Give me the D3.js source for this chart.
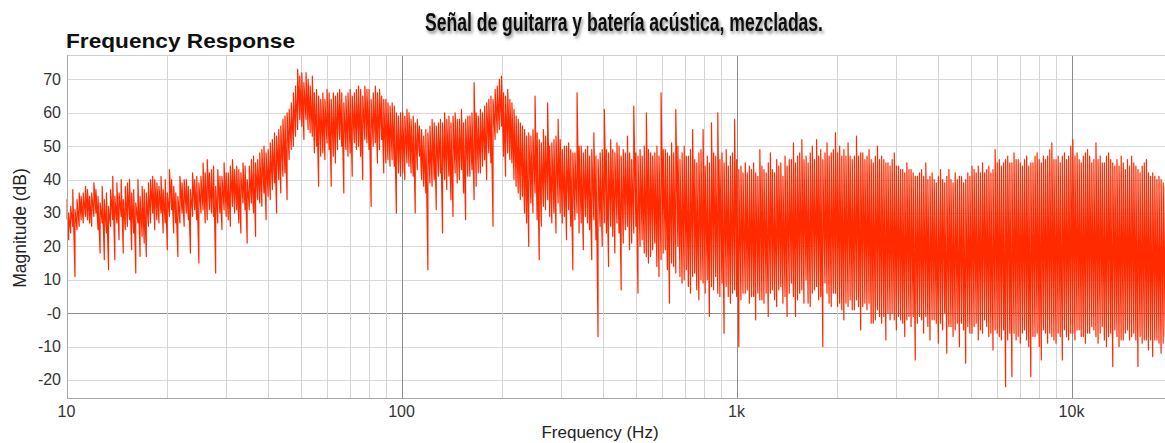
<!DOCTYPE html>
<html>
<head>
<meta charset="utf-8">
<script src="https://cdn.jsdelivr.net/npm/d3@7"></script>
<style>
  html, body { margin: 0; padding: 0; background: #fff; }
  svg { display: block; font-family: "Liberation Sans", Arial, Helvetica, sans-serif; }
</style>
</head>
<body>
<svg id="chart" width="1165" height="443"></svg>
<script>
// Display bins, 1/48 octave apart (Hz)
const freqHz = [
  10,10.15,10.29,10.44,10.6,10.75,10.91,11.06,11.22,11.39,11.55,11.72,11.89,12.07,12.24,12.42,12.6,12.78,12.97,13.16,13.35,13.54,13.74,13.94,14.14,14.35,14.56,14.77,14.98,15.2,15.42,15.65,15.87,16.1,16.34,16.58,16.82,17.06,17.31,17.56,17.82,18.08,18.34,18.61,18.88,19.15,19.43,19.71,
  20,20.29,20.59,20.89,21.19,21.5,21.81,22.13,22.45,22.78,23.11,23.44,23.78,24.13,24.48,24.84,25.2,25.57,25.94,26.31,26.7,27.09,27.48,27.88,28.28,28.7,29.11,29.54,29.97,30.4,30.84,31.29,31.75,32.21,32.68,33.15,33.64,34.13,34.62,35.13,35.64,36.16,36.68,37.21,37.75,38.3,38.86,39.43,
  40,40.58,41.17,41.77,42.38,43,43.62,44.26,44.9,45.55,46.21,46.88,47.57,48.26,48.97,49.68,50.4,51.13,51.88,52.63,53.39,54.17,54.96,55.76,56.57,57.39,58.23,59.07,59.93,60.81,61.69,62.59,63.5,64.42,65.36,66.31,67.27,68.25,69.24,70.25,71.27,72.31,73.36,74.43,75.51,76.61,77.72,78.85,
  80,81.16,82.34,83.54,84.76,85.99,87.24,88.51,89.8,91.1,92.43,93.78,95.14,96.53,97.93,99.36,100.8,102.3,103.8,105.3,106.8,108.4,109.9,111.5,113.1,114.8,116.5,118.2,119.9,121.6,123.4,125.2,127,128.9,130.7,132.6,134.5,136.5,138.5,140.5,142.5,144.6,146.7,148.9,151,153.2,155.4,157.7,
  160,162.3,164.7,167.1,169.5,172,174.5,177,179.6,182.2,184.9,187.6,190.3,193.1,195.9,198.8,201.6,204.5,207.5,210.6,213.6,216.7,219.9,223.1,226.3,229.6,233,236.3,239.8,243.3,246.8,250.4,254,257.7,261.4,265.2,269.1,273,277,281,285.1,289.2,293.4,297.7,302,306.4,310.9,315.4,
  320,324.7,329.4,334.2,339,344,349,354.1,359.2,364.4,369.7,375.1,380.6,386.1,391.7,397.4,403.2,409.1,415,421.1,427.2,433.4,439.7,446.1,452.6,459.2,465.8,472.6,479.5,486.5,493.5,500.7,508,515.4,522.9,530.5,538.2,546.1,554,562.1,570.3,578.6,587,595.5,604.2,613,621.9,630.9,
  640,649.3,658.8,668.4,678.1,688,698,708.1,718.4,728.9,739.5,750.2,761.1,772.2,783.4,794.8,806.3,818.1,830,842,854.3,866.7,879.3,892.1,905.1,918.2,931.6,945.1,958.9,972.9,987,1001,1016,1031,1046,1062,1077,1093,1109,1125,1141,1158,1174,1191,1208,1226,1244,1262,
  1280,1299,1318,1337,1356,1376,1396,1416,1437,1458,1479,1500,1522,1544,1567,1590,1613,1636,1660,1684,1709,1734,1759,1784,1810,1837,1863,1890,1918,1946,1974,2003,2032,2062,2092,2122,2153,2184,2216,2248,2281,2314,2348,2382,2417,2452,2487,2524,
  2560,2597,2635,2673,2712,2752,2792,2832,2874,2915,2958,3001,3044,3089,3134,3179,3225,3272,3320,3368,3417,3467,3517,3568,3620,3673,3726,3781,3836,3891,3948,4005,4064,4123,4183,4244,4305,4368,4431,4496,4561,4628,4695,4763,4833,4903,4974,5047,
  5120,5194,5270,5347,5425,5504,5583,5665,5747,5831,5916,6002,6089,6178,6268,6359,6450,6544,6640,6736,6834,6933,7034,7137,7240,7346,7453,7561,7671,7783,7896,8011,8127,8245,8365,8487,8611,8736,8863,8992,9123,9255,9390,9527,9665,9806,9949,10093,
  10240,10389,10540,10693,10849,11007,11167,11329,11494,11662,11831,12004,12178,12355,12535,12717,12902,13089,13280,13472,13668,13867,14068,14273,14481,14691,14905,15122,15342,15565,15791,16021,16255,16491,16731,16974,17221,17472,17726,17984,18245,18511,18780,19053
];

// Highest magnitude inside each bin (dB)
const peakDb = [
  34,30,32,37,31,34,36,35,36,38, 37,35,36,39,37,35,33,38,34,36, 32,37,41,35,39,36,40,34,38,39, 40,36,37,33,40,35,38,37,36,39, 40,41,40,39,38,41,37,40,
  36,43,40,38,36,35,41,39,40,40, 38,37,42,40,41,39,41,45,42,46, 42,43,44,38,43,41,41,45,42,42, 44,46,43,44,43,42,45,44,40,44, 46,47,45,46,48,49,50,48,
  49,51,52,54,53,55,56,58,59,60, 61,63,66,68,73,71,72,69,72,70, 68,71,66,67,65,64,66,64,67,66, 64,66,65,66,67,66,63,65,66,67, 65,66,67,68,67,65,68,67,
  67,64,66,68,66,67,65,64,64,63, 62,63,62,60,59,60,60,59,61,60, 58,59,57,58,56,55,53,55,54,56, 58,57,56,57,58,57,60,58,59,57, 59,60,58,58,61,57,58,59,
  59,60,69,60,59,61,60,62,63,64, 65,64,67,68,70,71,66,65,67,64, 63,61,59,58,57,56,55,53,54,53, 55,65,54,52,51,55,53,63,50,51, 52,53,58,52,49,50,50,51,
  49,48,48,66,50,50,48,49,50,47, 49,54,47,46,48,49,61,49,48,52, 49,48,51,50,47,49,48,53,48,46, 62,48,47,49,47,50,60,49,48,47, 48,50,47,66,49,49,48,47,
  51,48,61,50,46,48,50,47,47,49, 55,46,45,48,49,55,44,47,45,57, 48,47,60,46,48,45,49,44,47,48, 58,46,43,44,42,45,42,44,43,45, 42,41,49,44,43,42,45,48,
  43,42,46,44,45,41,47,44,46,46, 51,45,47,48,52,46,47,45,48,50, 46,52,47,49,46,48,51,47,48,49, 54,48,50,47,49,47,51,47,46,47, 53,47,48,48,46,47,49,46,
  45,47,50,46,47,46,45,45,44,46, 48,44,44,43,43,42,45,43,43,42, 41,41,42,43,41,45,40,41,42,40, 39,41,43,40,39,41,43,40,39,42, 40,41,41,39,40,42,41,44,
  43,42,44,42,45,42,43,44,42,43, 49,45,46,44,45,46,47,45,45,48, 46,46,45,44,46,47,44,45,45,47, 48,46,45,47,46,47,49,51,46,46, 47,45,47,48,46,47,50,52,
  47,48,46,45,47,48,49,47,45,46, 51,46,47,45,45,47,48,46,45,44, 46,44,47,45,43,46,44,47,45,44, 43,42,44,45,46,42,41,42,41,40, 41,40,39,38
];

// Lowest magnitude inside each bin (dB)
const dipDb = [
  28,22,24,26,11,25,26,28,27,29, 28,27,26,29,30,25,18,27,16,24, 13,26,28,16,27,22,29,18,25,26, 28,19,24,12,27,17,23,21,17,26, 27,30,25,28,27,30,24,27,
  19,29,31,24,27,17,27,30,26,30, 28,18,29,31,28,15,30,31,27,28, 31,30,29,12,27,30,25,31,29,28, 26,32,30,31,27,24,33,31,21,31, 33,30,23,34,33,32,36,28,
  35,34,37,39,30,40,36,41,42,34, 46,49,50,53,55,58,56,52,58,55, 54,53,48,50,38,47,48,46,51,49, 38,47,45,49,52,50,36,49,47,48, 41,51,49,50,47,40,52,51,
  49,32,50,51,45,49,52,42,45,46, 44,46,44,30,42,41,42,40,45,44, 42,41,30,43,47,40,38,36,13,39, 38,40,31,41,42,24,40,37,41,34, 29,42,39,40,43,36,28,41,
  41,43,34,38,42,42,44,46,40,48, 45,26,52,54,55,56,47,41,48,46, 45,40,38,36,34,35,30,27,20,33, 30,36,28,16,26,32,31,34,29,27, 30,24,33,30,27,29,22,31,
  26,13,28,30,24,27,19,29,27,25, 16,28,22,-7,26,20,27,24,14,26, 23,18,27,24,7,21,25,26,19,21, 24,26,6,20,22,18,17,15,17,19, 21,14,11,16,18,19,13,3,
  15,14,12,20,11,9,10,13,8,6, 11,12,7,4,10,9,6,10,-1,8, 7,11,6,5,9,-6,8,5,3,6, 7,5,-10,4,6,6,7,3,5,5, -2,6,4,4,3,6,-1,6,
  7,4,2,7,8,3,5,-1,6,9, 5,-1,4,6,7,3,10,3,2,6, 7,8,4,5,-10,9,6,3,2,6, 6,2,3,1,-2,3,2,4,1,1, 4,2,-5,2,3,1,3,-3,
  -3,-2,1,-1,-3,-1,-8,0,-2,0, -2,-5,-1,-2,-3,-7,-2,-1,-4,-1, -14,-3,-1,-2,-6,-1,-4,-8,-2,-2, -3,-9,-3,-5,0,-12,-4,-4,-7,-5, -3,-10,-3,-5,-15,-4,-6,-6,
  -4,-3,-8,-5,-6,-2,-4,-7,-6,-11, -5,-6,-7,-8,-5,-22,-8,-6,-19,-6, -8,-7,-9,-6,-5,-8,-10,-19,-7,-7, -6,-10,-14,-5,-6,-9,-6,-7,-8,-9, -6,-7,-14,-5,-7,-8,-6,-6,
  -8,-5,-5,-7,-7,-9,-6,-6,-4,-5, -7,-9,-6,-4,-8,-10,-7,-6,-16,-5, -7,-10,-8,-8,-6,-5,-8,-7,-6,-8, -16,-7,-9,-8,-8,-11,-8,-13,-8,-8, -9,-12,-9,-7
];

// Axis ticks and grid
const yTickValues = [-20, -10, 0, 10, 20, 30, 40, 50, 60, 70];
const yTickLabels = ["-20", "-10", "-0", "10", "20", "30", "40", "50", "60", "70"];
const xTickValues = [10, 100, 1000, 10000];
const xTickLabels = ["10", "100", "1k", "10k"];
const minorGridHz = [20,30,40,50,60,70,80,90, 200,300,400,500,600,700,800,900,
                     2000,3000,4000,5000,6000,7000,8000,9000];

const chartTitle = "Frequency Response";
const heading = "Señal de guitarra y batería acústica, mezcladas.";
const xAxisTitle = "Frequency (Hz)";
const yAxisTitle = "Magnitude (dB)";

// Layout
const W = 1165, H = 443;
const plotLeft = 66.5, plotTop = 55, plotBottom = 398, plotRight = W;

const x = d3.scaleLog().domain([10, 20000]).range([plotLeft, plotLeft + 335 * Math.log10(2000)]);
const y = d3.scaleLinear().domain([-25.4, 77.3]).range([plotBottom, plotTop]);

const svg = d3.select("#chart");

const defs = svg.append("defs");
defs.append("clipPath").attr("id", "plotClip")
  .append("rect").attr("x", plotLeft).attr("y", plotTop)
  .attr("width", plotRight - plotLeft).attr("height", plotBottom - plotTop);
const shadow = defs.append("filter").attr("id", "headShadow")
  .attr("x", "-5%").attr("y", "-30%").attr("width", "110%").attr("height", "160%");
shadow.append("feDropShadow").attr("dx", 1.5).attr("dy", 2.5).attr("stdDeviation", 1.6)
  .attr("flood-color", "#000").attr("flood-opacity", 0.45);

// Grid
const grid = svg.append("g").attr("shape-rendering", "crispEdges");
grid.selectAll("line.hy").data(yTickValues).join("line")
  .attr("x1", plotLeft).attr("x2", plotRight)
  .attr("y1", d => Math.round(y(d)) + 0.5).attr("y2", d => Math.round(y(d)) + 0.5)
  .attr("stroke", d => d === 0 ? "#8c8c8c" : "#d9d9d9").attr("stroke-width", 1);
grid.selectAll("line.vminor").data(minorGridHz).join("line")
  .attr("x1", d => Math.round(x(d)) + 0.5).attr("x2", d => Math.round(x(d)) + 0.5)
  .attr("y1", plotTop).attr("y2", plotBottom)
  .attr("stroke", "#d4d4d4").attr("stroke-width", 1);
grid.selectAll("line.vmajor").data(xTickValues.slice(1)).join("line")
  .attr("x1", d => Math.round(x(d)) + 0.5).attr("x2", d => Math.round(x(d)) + 0.5)
  .attr("y1", plotTop).attr("y2", plotBottom)
  .attr("stroke", "#8c8c8c").attr("stroke-width", 1);

// Spectrum trace: in each bin the trace climbs from the dip to the peak
const n = Math.min(freqHz.length, peakDb.length, dipDb.length);
const points = [];
for (let i = 0; i < n; i++) {
  points.push([freqHz[i], dipDb[i]], [freqHz[i], peakDb[i]]);
}
const line = d3.line().x(d => x(d[0])).y(d => y(d[1]));
svg.append("path")
  .attr("clip-path", "url(#plotClip)")
  .attr("d", line(points))
  .attr("fill", "none")
  .attr("stroke", "#ff2a00")
  .attr("stroke-width", 1.2)
  .attr("stroke-linejoin", "round");

// Frame
const frame = svg.append("g").attr("shape-rendering", "crispEdges").attr("stroke", "#a8a8a8");
frame.append("line").attr("x1", plotLeft).attr("x2", plotRight)
  .attr("y1", plotTop + 0.5).attr("y2", plotTop + 0.5).attr("stroke", "#cfcfcf");
frame.append("line").attr("x1", Math.round(plotLeft) + 0.5).attr("x2", Math.round(plotLeft) + 0.5)
  .attr("y1", plotTop).attr("y2", plotBottom);
frame.append("line").attr("x1", plotLeft).attr("x2", plotRight)
  .attr("y1", plotBottom + 0.5).attr("y2", plotBottom + 0.5);

// Tick labels
svg.append("g").selectAll("text").data(yTickValues).join("text")
  .attr("x", 61).attr("y", d => y(d) + 5.5)
  .attr("text-anchor", "end").attr("font-size", 16).attr("fill", "#333")
  .text((d, i) => yTickLabels[i]);
svg.append("g").selectAll("text").data(xTickValues).join("text")
  .attr("x", d => x(d)).attr("y", 417)
  .attr("text-anchor", "middle").attr("font-size", 16).attr("fill", "#333")
  .text((d, i) => xTickLabels[i]);

// Axis titles
svg.append("text").attr("x", 600).attr("y", 438).attr("text-anchor", "middle")
  .attr("font-size", 17).attr("fill", "#222").text(xAxisTitle);
svg.append("text").attr("transform", "translate(26,228) rotate(-90)").attr("text-anchor", "middle")
  .attr("font-size", 17.5).attr("fill", "#222").text(yAxisTitle);

// Titles
svg.append("text").attr("x", 66).attr("y", 48)
  .attr("font-size", 21).attr("font-weight", "bold").attr("fill", "#111")
  .attr("textLength", 229).attr("lengthAdjust", "spacingAndGlyphs")
  .text(chartTitle);
svg.append("text").attr("x", 425).attr("y", 31)
  .attr("font-size", 25).attr("font-weight", "bold").attr("fill", "#111")
  .attr("textLength", 398).attr("lengthAdjust", "spacingAndGlyphs")
  .attr("filter", "url(#headShadow)")
  .text(heading);
</script>
</body>
</html>
